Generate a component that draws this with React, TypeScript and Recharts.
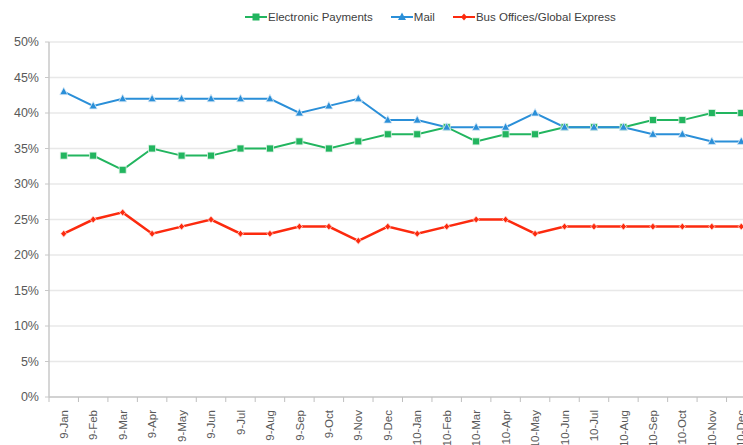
import * as React from "react";
import { CartesianGrid, Line, LineChart, XAxis, YAxis } from "recharts";

const months = [
  "9-Jan", "9-Feb", "9-Mar", "9-Apr", "9-May", "9-Jun", "9-Jul", "9-Aug", "9-Sep", "9-Oct", "9-Nov", "9-Dec",
  "10-Jan", "10-Feb", "10-Mar", "10-Apr", "10-May", "10-Jun", "10-Jul", "10-Aug", "10-Sep", "10-Oct", "10-Nov", "10-Dec",
];

const electronic = [34, 34, 32, 35, 34, 34, 35, 35, 36, 35, 36, 37, 37, 38, 36, 37, 37, 38, 38, 38, 39, 39, 40, 40];
const mail = [43, 41, 42, 42, 42, 42, 42, 42, 40, 41, 42, 39, 39, 38, 38, 38, 40, 38, 38, 38, 37, 37, 36, 36];
const busOffices = [23, 25, 26, 23, 24, 25, 23, 23, 24, 24, 22, 24, 23, 24, 25, 25, 23, 24, 24, 24, 24, 24, 24, 24];

const yTicks = [0, 5, 10, 15, 20, 25, 30, 35, 40, 45, 50];

const GREEN = "#22b55f";
const BLUE = "#2a8fd8";
const RED = "#fc2a0e";
const FONT = "'Liberation Sans', Arial, sans-serif";

const CHART_W = 762;
const PLOT_LEFT = 49;
const PLOT_RIGHT_MARGIN = 6;
const BAND = (CHART_W - PLOT_LEFT - PLOT_RIGHT_MARGIN) / months.length;

const data = months.map((m, i) => ({
  month: m,
  electronic: electronic[i],
  mail: mail[i],
  bus: busOffices[i],
}));

function SquareDot(props: any) {
  const { cx, cy } = props;
  if (cx == null || cy == null) return null;
  return <rect x={cx - 3.5} y={cy - 3.5} width={7} height={7} fill={GREEN} stroke="#dff3e6" strokeWidth={0.8} />;
}

function TriangleDot(props: any) {
  const { cx, cy } = props;
  if (cx == null || cy == null) return null;
  return (
    <path
      d={`M${cx},${cy - 4.5} L${cx + 4},${cy + 3} L${cx - 4},${cy + 3} Z`}
      fill={BLUE}
      stroke="#dcebf7"
      strokeWidth={0.8}
    />
  );
}

function DiamondDot(props: any) {
  const { cx, cy } = props;
  if (cx == null || cy == null) return null;
  return (
    <path
      d={`M${cx},${cy - 3.5} L${cx + 3},${cy} L${cx},${cy + 3.5} L${cx - 3},${cy} Z`}
      fill={RED}
      stroke="#ffe0da"
      strokeWidth={0.8}
    />
  );
}

// category label rotated, plus a small tick at the left edge of each band
function MonthTick(props: any) {
  const { x, y, payload } = props;
  const left = x - BAND / 2;
  return (
    <g>
      <line x1={left} y1={y - 8} x2={left} y2={y - 3} stroke="#bfbfbf" />
      <text
        x={x}
        y={y + 5}
        dy="0.36em"
        transform={`rotate(-90, ${x}, ${y + 5})`}
        textAnchor="end"
        fill="#595959"
        fontSize={11.5}
        fontFamily={FONT}
      >
        {payload.value}
      </text>
    </g>
  );
}

const legendItems = [
  { label: "Electronic Payments", color: GREEN, shape: "square" },
  { label: "Mail", color: BLUE, shape: "triangle" },
  { label: "Bus Offices/Global Express", color: RED, shape: "diamond" },
];

function ChartLegend() {
  return (
    <div
      style={{
        position: "absolute",
        top: 11,
        left: 245,
        display: "flex",
        alignItems: "center",
        fontFamily: FONT,
        fontSize: 11.5,
        color: "#404040",
      }}
    >
      {legendItems.map((item) => (
        <div key={item.label} style={{ display: "flex", alignItems: "center", marginRight: 18 }}>
          <svg width={22} height={10} style={{ marginRight: 1 }}>
            <line x1={0} y1={5} x2={22} y2={5} stroke={item.color} strokeWidth={2} />
            {item.shape === "square" && <rect x={7.5} y={1.5} width={7} height={7} fill={item.color} />}
            {item.shape === "triangle" && <path d="M11,0.5 L15,8 L7,8 Z" fill={item.color} />}
            {item.shape === "diamond" && <path d="M11,1.5 L14,5 L11,8.5 L8,5 Z" fill={item.color} />}
          </svg>
          <span>{item.label}</span>
        </div>
      ))}
    </div>
  );
}

export default function App() {
  return (
    <div
      style={{
        position: "absolute",
        left: 0,
        top: 0,
        width: 743,
        height: 445,
        overflow: "hidden",
        background: "#fff",
      }}
    >
      <LineChart
        width={CHART_W}
        height={445}
        data={data}
        margin={{ top: 42, right: PLOT_RIGHT_MARGIN, bottom: 0, left: 0 }}
      >
        <CartesianGrid vertical={false} stroke="#e8e8e8" strokeWidth={1.5} />
        <XAxis
          dataKey="month"
          type="category"
          scale="band"
          interval={0}
          height={48}
          tickLine={false}
          axisLine={{ stroke: "#c8c8c8", strokeWidth: 1.5 }}
          tick={<MonthTick />}
        />
        <YAxis
          width={PLOT_LEFT}
          domain={[0, 50]}
          ticks={yTicks}
          interval={0}
          tickFormatter={(v) => `${v}%`}
          tickSize={4}
          tickMargin={6}
          tickLine={{ stroke: "#c8c8c8" }}
          axisLine={{ stroke: "#c8c8c8", strokeWidth: 1.5 }}
          tick={{ fill: "#595959", fontSize: 12.5, fontFamily: FONT }}
        />
        <Line
          dataKey="electronic"
          stroke={GREEN}
          strokeWidth={2}
          dot={<SquareDot />}
          activeDot={false}
          isAnimationActive={false}
        />
        <Line
          dataKey="mail"
          stroke={BLUE}
          strokeWidth={2}
          dot={<TriangleDot />}
          activeDot={false}
          isAnimationActive={false}
        />
        <Line
          dataKey="bus"
          stroke={RED}
          strokeWidth={2.5}
          dot={<DiamondDot />}
          activeDot={false}
          isAnimationActive={false}
        />
      </LineChart>
      <ChartLegend />
    </div>
  );
}
